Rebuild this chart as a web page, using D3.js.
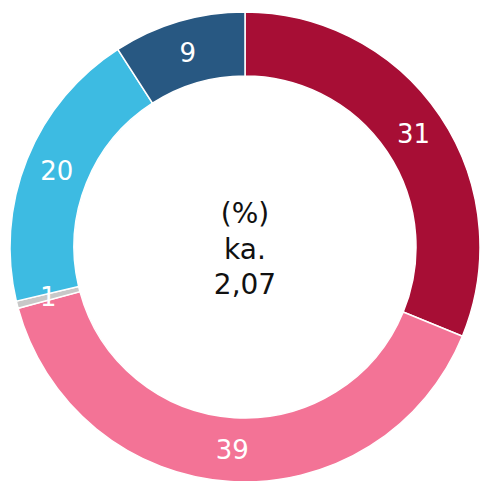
<!DOCTYPE html>
<html>
<head>
<meta charset="utf-8">
<script src="https://cdn.jsdelivr.net/npm/d3@7"></script>
<style>
  body { margin: 0; background: #fff; }
  text { font-family: "DejaVu Sans", Verdana, sans-serif; }
</style>
</head>
<body>
<script>
// data (clockwise from 12 o'clock)
const categories = ["a", "b", "c", "d", "e"];
const values = [31.2, 39.6, 0.5, 19.6, 9.1];
const labels = ["31", "39", "1", "20", "9"];
const colors = ["#a70e35", "#f37396", "#c8c8c8", "#3dbbe2", "#285882"];
const centerLines = ["(%)", "ka.", "2,07"];

const width = 480, height = 481;
const cx = 245, cy = 247;
const outerR = 235, innerR = 171;

const svg = d3.select("body").append("svg")
    .attr("width", width)
    .attr("height", height);

const g = svg.append("g")
    .attr("transform", "translate(" + cx + "," + cy + ")");

const pie = d3.pie().sort(null).value(function(d) { return d.value; });
const arc = d3.arc().innerRadius(innerR).outerRadius(outerR);

const data = categories.map(function(c, i) {
    return {name: c, value: values[i], label: labels[i], color: colors[i]};
});

const arcs = pie(data);

g.selectAll("path")
    .data(arcs)
    .enter()
    .append("path")
    .attr("d", arc)
    .style("fill", function(d) { return d.data.color; })
    .style("stroke", "#fff")
    .style("stroke-width", 1.5);

// slice labels
g.selectAll(".slice_label")
    .data(arcs)
    .enter()
    .append("text")
    .attr("class", "slice_label")
    .attr("transform", function(d) { return "translate(" + arc.centroid(d) + ")"; })
    .attr("text-anchor", "middle")
    .attr("dy", "0.36em")
    .attr("font-size", "26px")
    .style("fill", "#fff")
    .text(function(d) { return d.data.label; });

// centre text
g.selectAll(".center_text")
    .data(centerLines)
    .enter()
    .append("text")
    .attr("class", "center_text")
    .attr("text-anchor", "middle")
    .attr("y", function(d, i) { return -24 + i * 35.5; })
    .attr("font-size", "28px")
    .style("fill", "#111")
    .text(function(d) { return d; });
</script>
</body>
</html>
